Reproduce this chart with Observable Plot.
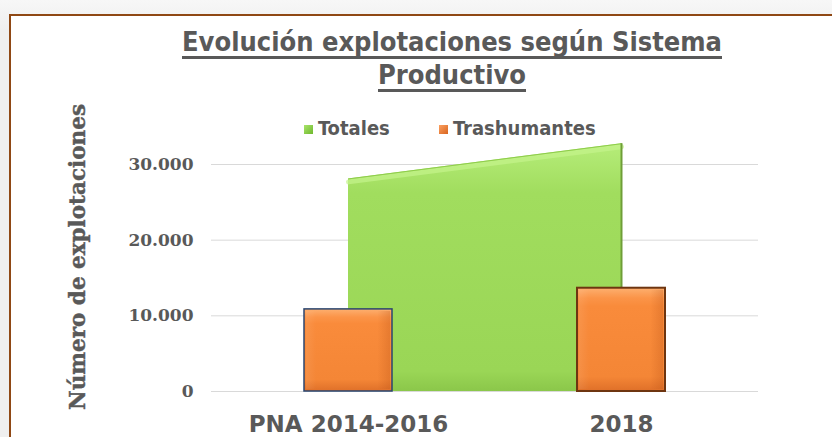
<!DOCTYPE html>
<html>
<head>
<meta charset="utf-8">
<script src="https://cdn.jsdelivr.net/npm/d3@7"></script>
<script src="https://cdn.jsdelivr.net/npm/@observablehq/plot@0.6"></script>
<style>
  html, body { margin: 0; padding: 0; }
  body { width: 832px; height: 437px; overflow: hidden; position: relative;
         background: linear-gradient(#f7f7f7, #efefef 30px, #efefef); }
  #frame { position: absolute; left: 9px; top: 14px; width: 900px; height: 500px;
           background: #fff; border-left: 2px solid #8f4814; border-top: 2px solid #8f4814; }
  #chart { position: absolute; left: 0; top: 0; }
  #title { position: absolute; left: 452px; top: 25px; transform: translateX(-50%);
           text-align: center; white-space: nowrap; color: #595959;
           font-family: "DejaVu Sans Condensed", "DejaVu Sans", sans-serif; font-stretch: condensed;
           font-weight: bold; font-size: 27px; line-height: 33px;
           text-decoration: underline; text-decoration-thickness: 2.5px; text-underline-offset: 5px;
           text-decoration-skip-ink: none; }
  #legend { position: absolute; top: 118px; left: 0; height: 20px; }
  .lg-item { position: absolute; top: 0; white-space: nowrap; color: #595959;
             font-family: "DejaVu Sans Condensed", "DejaVu Sans", sans-serif; font-stretch: condensed;
             font-weight: bold; font-size: 20px; line-height: 20px; }
  .lg-sw { display: inline-block; width: 9px; height: 9px; margin-right: 5px; vertical-align: 1px; }
  #ytitle { position: absolute; left: 78px; top: 257px; transform: translate(-50%, -50%) rotate(-90deg);
            white-space: nowrap; color: #595959; font-family: "DejaVu Serif", serif;
            font-weight: 900; font-size: 21.5px; line-height: 24px; -webkit-text-stroke: 0.4px #595959; }
</style>
</head>
<body>
<div id="frame"></div>
<div id="chart"></div>
<div id="title"></div>
<div id="legend"></div>
<div id="ytitle"></div>
<script>
// ---- data ----
const categories = ["PNA 2014-2016", "2018"];
const totales = [28100, 32750];
const trashumantes = [10850, 13650];
const seriesNames = ["Totales", "Trashumantes"];
const yTicks = [0, 10000, 20000, 30000];
const titleLines = ["Evolución explotaciones según Sistema", "Productivo"];
const yTitle = "Número de explotaciones";

const totalData = categories.map((c, i) => ({cat: c, value: totales[i]}));
const transData = categories.map((c, i) => ({cat: c, value: trashumantes[i]}));

const fmt = d3.formatLocale({decimal: ",", thousands: ".", grouping: [3], currency: ["", ""]}).format(",");

const gray = "#595959";
const svg = Plot.plot({
  width: 832,
  height: 437,
  marginLeft: 211,
  marginRight: 74,
  marginTop: 164,
  marginBottom: 46,
  style: {background: "transparent", overflow: "visible"},
  x: {type: "band", domain: categories, paddingInner: 0.678, paddingOuter: 0.339},
  y: {domain: [0, 30000]},
  marks: [
    Plot.gridY(yTicks, {stroke: "#d9d9d9", strokeOpacity: 1, strokeWidth: 1}),
    Plot.areaY(totalData, {x: "cat", y: "value", fill: "url(#greenGrad)"}),
    Plot.lineY(totalData, {x: "cat", y: "value", stroke: "#c4f38c", strokeWidth: 5, strokeOpacity: 0.7, dy: 3}),
    Plot.lineY(totalData, {x: "cat", y: "value", stroke: "#8fcc4c", strokeWidth: 1}),
    Plot.ruleX(totalData.slice(-1), {x: "cat", y1: 0, y2: "value", stroke: "#6f9e38", strokeWidth: 2}),
    Plot.barY(transData, {filter: d => d.cat === categories[0], x: "cat", y: "value",
      fill: "url(#orangeGrad)", stroke: "#2a4670", strokeWidth: 1.5}),
    Plot.barY(transData, {filter: d => d.cat === categories[1], x: "cat", y: "value",
      fill: "url(#orangeGrad)", stroke: "#6e3510", strokeWidth: 2}),
    Plot.barY(transData, {x: "cat", y: "value", fill: "url(#orangeSide)", insetLeft: 2, insetRight: 2, insetTop: 2, insetBottom: 2}),
    Plot.axisY(yTicks, {tickSize: 0, tickPadding: 18, tickFormat: fmt, fontSize: 17,
      fontFamily: "DejaVu Serif", fontWeight: "bold", fill: gray, label: null}),
    Plot.axisX({tickSize: 0, tickPadding: 24, fontSize: 23,
      fontFamily: "DejaVu Sans", fontWeight: "bold", fill: gray, label: null})
  ]
});

d3.select(svg).insert("defs", ":first-child").html(`
  <linearGradient id="greenGrad" x1="0" y1="0" x2="0" y2="1">
    <stop offset="0" stop-color="#b6ed7a"/>
    <stop offset="0.2" stop-color="#a1dd5e"/>
    <stop offset="0.92" stop-color="#9ad656"/>
    <stop offset="1" stop-color="#8bc74a"/>
  </linearGradient>
  <linearGradient id="orangeGrad" x1="0" y1="0" x2="0" y2="1">
    <stop offset="0" stop-color="#fdb070"/>
    <stop offset="0.1" stop-color="#fb9448"/>
    <stop offset="0.18" stop-color="#f98b3b"/>
    <stop offset="0.86" stop-color="#f48636"/>
    <stop offset="1" stop-color="#df7029"/>
  </linearGradient>
  <linearGradient id="orangeSide" x1="0" y1="0" x2="1" y2="0">
    <stop offset="0" stop-color="#ffffff" stop-opacity="0.08"/>
    <stop offset="0.12" stop-color="#ffffff" stop-opacity="0"/>
    <stop offset="0.85" stop-color="#b04a10" stop-opacity="0"/>
    <stop offset="1" stop-color="#b04a10" stop-opacity="0.25"/>
  </linearGradient>
`);
document.getElementById("chart").appendChild(svg);

document.getElementById("title").innerHTML = titleLines.join("<br>");
document.getElementById("ytitle").textContent = yTitle;

const swatches = ["linear-gradient(135deg,#a9e46a,#6fb82e)", "linear-gradient(135deg,#fca060,#d8651f)"];
const legendLeft = [304, 439];
const legend = document.getElementById("legend");
seriesNames.forEach((name, i) => {
  const item = document.createElement("span");
  item.className = "lg-item";
  item.style.left = legendLeft[i] + "px";
  const sw = document.createElement("span");
  sw.className = "lg-sw";
  sw.style.background = swatches[i];
  item.appendChild(sw);
  item.appendChild(document.createTextNode(name));
  legend.appendChild(item);
});
</script>
</body>
</html>
